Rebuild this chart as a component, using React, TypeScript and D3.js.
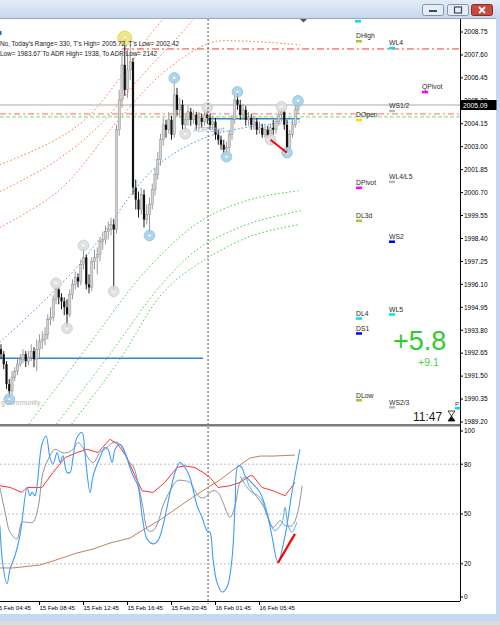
import React from 'react';
import * as d3 from 'd3';

type P = [number, number];

// ---- axis labels ----
const priceTicks = [2008.75, 2007.6, 2006.45, 2005.3, 2004.15, 2003.0, 2001.85, 2000.7, 1999.55, 1998.4, 1997.25, 1996.1, 1994.95, 1993.8, 1992.65, 1991.5, 1990.35, 1989.2];
const indTicks = [100, 80, 50, 20, 0];
const indGrid = [80, 50, 20];
const timeIdx = [-2, 14, 30, 46, 62, 78, 94];
const timeLabels = ['15 Feb 04:45', '15 Feb 08:45', '15 Feb 12:45', '15 Feb 16:45', '15 Feb 20:45', '16 Feb 01:45', '16 Feb 05:45'];
const lastPrice = 2005.09;

// ---- candles (M15) ----
const firstOpen = 1992.85;
const closes = [
  1992.60, 1992.10, 1991.10, 1990.75, 1991.45, 1991.75, 1992.10, 1992.35, 1992.60, 1992.25,
  1992.45, 1992.75, 1992.35, 1992.85, 1993.25, 1993.35, 1993.60, 1994.35, 1994.45, 1995.35,
  1995.85, 1995.45, 1995.25, 1994.95, 1994.60, 1995.60, 1996.10, 1996.45, 1996.25, 1997.10,
  1997.45, 1996.10, 1995.95, 1997.25, 1997.45, 1997.60, 1998.25, 1998.35, 1998.75, 1998.85,
  1999.10, 1998.85, 2003.85, 2005.35, 2007.10, 2005.85, 2006.85, 2007.25, 2000.95, 2000.35,
  1999.85, 2000.60, 1999.35, 1999.60, 2000.10, 2000.85, 2001.60, 2002.35, 2003.35, 2004.10,
  2003.85, 2004.35, 2003.60, 2005.60, 2004.85, 2005.10, 2004.10, 2004.35, 2004.75, 2004.35,
  2004.60, 2004.10, 2004.45, 2004.25, 2004.60, 2004.45, 2004.10, 2004.25, 2003.60, 2003.35,
  2003.10, 2002.85, 2002.95, 2003.60, 2004.35, 2005.35, 2005.10, 2004.60, 2004.85, 2004.35,
  2004.45, 2004.10, 2004.25, 2003.85, 2003.95, 2003.60, 2003.85, 2003.55, 2003.95, 2003.85,
  2004.25, 2004.60, 2004.75, 2004.10, 2002.95, 2003.60, 2004.10, 2004.85, 2005.09,
];
const highs = [
  1993.10, 1992.75, 1992.25, 1991.35, 1991.75, 1991.95, 1992.35, 1992.60, 1992.85, 1992.75,
  1992.75, 1993.10, 1992.95, 1993.35, 1993.60, 1993.75, 1993.95, 1994.60, 1994.95, 1995.55,
  1996.15, 1995.95, 1995.65, 1995.45, 1995.35, 1995.85, 1996.35, 1996.75, 1996.65, 1997.35,
  1998.05, 1997.60, 1996.60, 1997.45, 1997.85, 1997.95, 1998.45, 1998.75, 1999.05, 1999.25,
  1999.45, 1999.35, 2004.10, 2005.85, 2007.60, 2008.45, 2007.85, 2008.10, 2007.45, 2001.35,
  2000.75, 2000.95, 2000.85, 2000.10, 2000.45, 2001.15, 2001.95, 2002.75, 2003.65, 2004.45,
  2004.35, 2004.75, 2004.55, 2006.45, 2005.95, 2005.45, 2005.35, 2004.60, 2005.05, 2004.95,
  2004.85, 2004.75, 2004.75, 2004.65, 2004.85, 2004.95, 2004.65, 2004.55, 2004.45, 2003.85,
  2003.55, 2003.35, 2003.25, 2003.85, 2004.60, 2005.55, 2005.75, 2005.35, 2005.15, 2005.05,
  2004.75, 2004.65, 2004.55, 2004.45, 2004.25, 2004.15, 2004.05, 2004.05, 2004.15, 2004.35,
  2004.45, 2004.85, 2005.00, 2004.85, 2004.35, 2003.85, 2004.35, 2005.05, 2005.30,
];
const lows = [
  1992.35, 1991.85, 1990.85, 1990.35, 1990.60, 1991.25, 1991.55, 1991.95, 1992.15, 1991.95,
  1992.05, 1992.25, 1991.95, 1991.75, 1992.45, 1992.85, 1993.05, 1993.35, 1994.05, 1994.25,
  1995.10, 1995.10, 1994.85, 1994.55, 1993.90, 1994.45, 1995.35, 1995.85, 1995.95, 1996.05,
  1996.85, 1995.85, 1995.65, 1995.75, 1996.85, 1996.60, 1997.25, 1997.85, 1998.10, 1998.35,
  1998.55, 1995.75, 1998.65, 2003.55, 2004.95, 2005.55, 2005.45, 2006.35, 2000.60, 1999.85,
  1999.45, 1999.60, 1998.95, 1999.10, 1998.55, 1999.85, 2000.55, 2001.35, 2002.05, 2003.05,
  2003.45, 2003.65, 2003.35, 2003.45, 2004.55, 2004.45, 2003.85, 2003.65, 2004.05, 2004.05,
  2004.15, 2003.85, 2003.85, 2003.95, 2004.05, 2004.15, 2003.85, 2003.85, 2003.35, 2003.10,
  2002.85, 2002.65, 2002.50, 2002.75, 2003.35, 2004.15, 2004.85, 2004.35, 2004.35, 2004.05,
  2004.05, 2003.85, 2003.85, 2003.60, 2003.65, 2003.45, 2003.45, 2003.45, 2003.35, 2003.60,
  2003.65, 2004.05, 2004.25, 2003.85, 2002.70, 2002.85, 2003.45, 2003.95, 2004.65,
];

// fractal markers
const fractalIdx = [3, 20, 24, 30, 41, 45, 54, 63, 67, 75, 82, 86, 98, 102, 104, 108];
const fractalSide = ['l', 'h', 'l', 'h', 'l', 'h', 'l', 'h', 'l', 'h', 'l', 'h', 'l', 'h', 'l', 'h'];
const fractalKind = ['b', 'g', 'g', 'g', 'g', 'y', 'b', 'b', 'g', 'g', 'b', 'b', 'g', 'g', 'b', 'b'];
const priceDivIdx = [98, 104];

// ADR band curves [candle index, price]
const adrUp1: P[] = [[-0.4, 2002.10], [17.8, 2003.20], [30.5, 2004.35], [43.3, 2006.45], [54.2, 2008.60], [59.6, 2009.50]];
const adrUp2: P[] = [[-0.4, 2000.75], [19.6, 2002.25], [36, 2004.10], [50.5, 2006.45], [63.3, 2008.35], [70.5, 2009.45]];
const adrUp3: P[] = [[-0.4, 1998.95], [21.5, 2000.85], [42.2, 2004.25], [58.9, 2006.70], [76, 2008.20], [86.9, 2008.30], [108.7, 2008.10]];
const adrMid: P[] = [[-0.4, 1993.20], [27.6, 1996.95], [55.3, 2001.85], [72.4, 2003.35], [90.5, 2004.00], [108.7, 2004.25]];
const adrLow1: P[] = [[8.5, 1988.80], [31.6, 1993.00], [53.1, 1996.85], [72.4, 1999.25], [90.5, 2000.35], [108.7, 2000.80]];
const adrLow2: P[] = [[18.5, 1988.80], [39.6, 1992.60], [57.8, 1996.00], [72.4, 1997.95], [90.5, 1999.15], [109.5, 1999.80]];
const adrLow3: P[] = [[24, 1988.80], [43.3, 1992.35], [57.8, 1995.50], [68.7, 1996.85], [90.5, 1998.50], [108.7, 1999.10]];

// horizontal levels
const weekLevel = 2007.90;
const weekLevelStart = 44;
const dayOpenRed = 2004.65;
const dayOpenGreen = 2004.50;
const prevBlueLevel = 1992.40;
const prevBlueRange = [-1, 73.5];
const curBlueLevel = 2004.40;
const curBlueRange = [75.3, 108.7];
const sessionIdx = 75.3;

// pivot labels
const pivotNames = ['DHigh', 'WL4', 'QPivot', 'WS1/2', 'DOpen', 'DPivot', 'WL4/L5', 'DL3d', 'WS2', 'DL4', 'WL5', 'DS1', 'DLow', 'WS2/3'];
const pivotPrices = [2008.30, 2007.95, 2005.75, 2004.80, 2004.35, 2000.95, 2001.25, 1999.30, 1998.25, 1994.40, 1994.60, 1993.65, 1990.30, 1989.95];
const pivotColors = ['#9acd32', '#00e0f0', '#ff00ff', '#b8b8b8', '#ffd700', '#ff00ff', '#b8b8b8', '#9acd32', '#0000ff', '#00e0f0', '#00e0f0', '#0000ff', '#9acd32', '#b8b8b8'];

// indicator pane series [candle index, value]
const stochMain: P[] = [[-0.4, 43], [0.7, 19], [2.2, 8], [3.3, 17], [5.1, 25], [6.9, 37], [7.6, 45], [9.5, 66], [10.5, 61], [11.3, 63], [12.4, 61], [13.1, 67], [14.9, 92], [16.4, 97], [17.8, 84], [18.9, 80], [20.4, 87], [21.5, 81], [22.5, 85], [24, 75], [25.1, 75], [26.2, 84], [27.6, 96], [29.5, 99], [30.5, 87], [32.4, 63], [33.5, 73], [36, 84], [37.8, 90], [38.9, 89], [40.4, 81], [41.5, 89], [43.3, 92], [45.1, 87], [46.9, 78], [48, 73], [49.8, 67], [51.3, 49], [53.1, 35], [55.3, 32], [57.1, 34], [58.9, 43], [61.5, 63], [63.3, 75], [65.1, 81], [66.9, 78], [68.7, 72], [71.3, 55], [73.1, 48], [74.9, 40], [76, 39], [77.1, 23], [78.5, 9], [80.4, 3], [82.2, 6], [84, 23], [85.1, 54], [86.2, 79], [87.6, 78], [88.7, 73], [90.5, 70], [94.2, 63], [96.7, 51], [98.5, 37], [100.7, 21], [103.3, 37], [105.8, 63], [108.7, 89]];
const stochFast: P[] = [[86.9, 73], [90.5, 64], [94.2, 60], [97.1, 48], [99.6, 40], [102.2, 45], [103.3, 54], [104.4, 43], [105.8, 39], [106.9, 42], [107.6, 45]];
const stochSignal: P[] = [[-0.4, 66], [1.5, 51], [3.3, 39], [5.8, 35], [7.6, 45], [9.5, 45], [11.6, 45], [13.5, 54], [15.3, 75], [17.8, 85], [19.6, 89], [22.2, 87], [24, 87], [26.2, 89], [28, 93], [29.8, 90], [31.6, 84], [33.5, 81], [36, 87], [38.5, 90], [40.7, 93], [42.5, 93], [44.4, 89], [46.2, 82], [48, 79], [49.8, 69], [51.6, 54], [53.5, 40], [55.3, 40], [57.1, 45], [58.9, 55], [61.5, 64], [64, 70], [66.9, 70], [68.7, 69], [70.5, 64], [72.4, 60], [74.2, 60], [76, 63], [77.1, 64], [78.9, 63], [80.7, 57], [83.3, 48], [85.1, 55], [86.9, 69], [88.7, 72], [90.5, 66], [95.3, 55], [98.9, 42], [101.5, 46], [103.3, 43], [105.8, 43], [107.6, 49], [109.5, 67]];
const htfLine: P[] = [[-0.4, 67], [3.3, 66], [7.6, 63], [9.5, 66], [14.9, 66], [18.9, 75], [23.3, 84], [27.6, 87], [31.3, 89], [35.3, 87], [39.6, 95], [42.5, 92], [45.8, 84], [48.7, 73], [51.3, 64], [55.3, 63], [59.6, 69], [64, 78], [66.9, 79], [70.5, 78], [73.5, 75], [76, 72], [78.9, 66], [83.3, 67], [86.9, 69], [90.5, 73], [91.6, 73], [94.9, 66], [98.9, 64], [103.3, 61], [106.9, 69]];
const slowLine: P[] = [[-0.4, 17.5], [4.4, 17.5], [14.2, 19.3], [18.9, 21.7], [27.6, 26.5], [33.5, 28.9], [39.6, 32.5], [46.9, 35.5], [51.6, 40.4], [57.8, 46.4], [64, 53.6], [69.8, 60.2], [74.9, 65.7], [79.6, 70.5], [84.4, 76.5], [90.5, 83.7], [94.2, 84.9], [98.9, 84.9], [106.9, 85.5]];
const indDiv: P[] = [[100.7, 20.5], [106.9, 38]];

export default function App() {
  const AX = 460;
  const MAIN_TOP = 19;
  const MAIN_BOT = 424;
  const IND_TOP = 427;
  const IND_BOT = 601;
  const font = '"Liberation Sans", Arial, sans-serif';

  const x = d3.scaleLinear().domain([0, 108]).range([1, 298]);
  const y = d3.scaleLinear().domain([1989.2, 2008.75]).range([422, 32]);
  const yi = d3.scaleLinear().domain([0, 100]).range([597, 431]);
  const opens = closes.map((c, i) => (i === 0 ? firstOpen : closes[i - 1]));

  const smooth = d3.line<P>().x(d => x(d[0])).y(d => y(d[1])).curve(d3.curveCatmullRom.alpha(0.5));
  const smoothI = d3.line<P>().x(d => x(d[0])).y(d => yi(d[1])).curve(d3.curveCatmullRom.alpha(0.5));
  const linI = d3.line<P>().x(d => x(d[0])).y(d => yi(d[1]));

  const colX = (name: string) => (name[0] === 'D' ? 356 : name[0] === 'W' ? 389 : 422);

  return (
    <svg width={500} height={625} style={{ position: 'absolute', left: 0, top: 0, fontFamily: font }}>
      <defs>
        <linearGradient id="tb" x1="0" y1="0" x2="0" y2="1">
          <stop offset="0" stopColor="#e3ecf7" />
          <stop offset="1" stopColor="#c6d8ee" />
        </linearGradient>
        <clipPath id="mainClip"><rect x={0} y={MAIN_TOP} width={AX} height={MAIN_BOT - MAIN_TOP} /></clipPath>
        <clipPath id="indClip"><rect x={0} y={IND_TOP} width={AX} height={IND_BOT - IND_TOP} /></clipPath>
      </defs>
      <rect x={0} y={0} width={500} height={625} fill="#ffffff" />

      {/* window chrome */}
      <rect x={0} y={0} width={500} height={18} fill="url(#tb)" />
      <line x1={0} x2={500} y1={18.5} y2={18.5} stroke="#9aa7b8" />
      <rect x={422.5} y={4.5} width={21} height={11} rx={2} fill="#e6edf6" stroke="#8193ad" />
      <rect x={429} y={10} width={8} height={2} fill="#3a4a60" />
      <rect x={447.5} y={4.5} width={21} height={11} rx={2} fill="#e6edf6" stroke="#8193ad" />
      <rect x={454.5} y={7} width={7} height={6} fill="none" stroke="#3a4a60" strokeWidth={1.2} />
      <rect x={471.5} y={4.5} width={21} height={11} rx={2} fill="#c9493d" stroke="#8a2c25" />
      <path d="M479,7 L485,13 M485,7 L479,13" stroke="#ffffff" strokeWidth={1.8} />
      <rect x={496} y={18} width={4} height={607} fill="#c4d7ee" />
      <rect x={0} y={614} width={500} height={7} fill="#c5d8ef" />
      <rect x={0} y={621} width={500} height={4} fill="#dcdcdc" />

      {/* main pane */}
      <g clipPath="url(#mainClip)">
        {[adrUp1, adrUp2, adrUp3].map((c, k) => (
          <path key={'u' + k} d={smooth(c) || ''} fill="none" stroke="#ff7a45" strokeWidth={1} strokeDasharray="1.6,2.2" />
        ))}
        {[adrLow1, adrLow2, adrLow3].map((c, k) => (
          <path key={'l' + k} d={smooth(c) || ''} fill="none" stroke="#4cd24c" strokeWidth={1} strokeDasharray="1.6,2.2" />
        ))}
        <path d={smooth(adrMid) || ''} fill="none" stroke="#3d9bff" strokeWidth={1} strokeDasharray="1.6,2.2" />

        {/* levels */}
        <line x1={x(weekLevelStart)} x2={AX} y1={y(weekLevel)} y2={y(weekLevel)} stroke="#e8452e" strokeWidth={1} strokeDasharray="7,3,2,3" />
        <line x1={0} x2={AX} y1={y(lastPrice)} y2={y(lastPrice)} stroke="#a9a9a9" strokeWidth={1} />
        <line x1={0} x2={AX} y1={y(dayOpenRed)} y2={y(dayOpenRed)} stroke="#ff8a80" strokeWidth={1.3} strokeDasharray="6,3,2,3" />
        <line x1={0} x2={AX} y1={y(dayOpenGreen)} y2={y(dayOpenGreen)} stroke="#b6ebb0" strokeWidth={2} strokeDasharray="4,2" />
        <line x1={x(prevBlueRange[0])} x2={x(prevBlueRange[1])} y1={y(prevBlueLevel)} y2={y(prevBlueLevel)} stroke="#2f86db" strokeWidth={1.5} />
        <line x1={x(curBlueRange[0])} x2={x(curBlueRange[1])} y1={y(curBlueLevel)} y2={y(curBlueLevel)} stroke="#2f86db" strokeWidth={1.5} />

        {/* candles */}
        {closes.map((c, i) => {
          const o = opens[i];
          const bull = c >= o;
          const cx = x(i);
          const top = y(Math.max(o, c));
          const bot = y(Math.min(o, c));
          return (
            <g key={'c' + i}>
              <line x1={cx} x2={cx} y1={y(highs[i])} y2={y(lows[i])} stroke={bull ? '#9a9a9a' : '#1a1a1a'} strokeWidth={1} />
              <rect x={cx - 1.1} y={top} width={2.2} height={Math.max(1, bot - top)} fill={bull ? '#d2d2d2' : '#111111'} stroke={bull ? '#8e8e8e' : 'none'} strokeWidth={0.5} />
            </g>
          );
        })}

        {/* fractal markers */}
        {fractalIdx.map((idx, k) => {
          const cy = fractalSide[k] === 'h' ? y(highs[idx]) : y(lows[idx]);
          const kind = fractalKind[k];
          const fill = kind === 'b' ? '#9fd0e8' : kind === 'y' ? '#eee07a' : '#dedede';
          const stroke = kind === 'b' ? '#86c0de' : kind === 'y' ? '#e2d050' : '#c8c8c8';
          return (
            <g key={'f' + k} opacity={0.85}>
              <circle cx={x(idx)} cy={cy} r={kind === 'y' ? 7 : 5.3} fill={fill} stroke={stroke} />
              <circle cx={x(idx)} cy={cy} r={1.2} fill="#ffffff" />
            </g>
          );
        })}

        {/* divergence on price */}
        <line x1={x(priceDivIdx[0])} y1={y(lows[priceDivIdx[0]])} x2={x(priceDivIdx[1])} y2={y(lows[priceDivIdx[1]])} stroke="#ff0000" strokeWidth={2} />

        {/* texts */}
        <rect x={0} y={31} width={1.5} height={4} fill="#1f5fd0" />
        <text x={0} y={45.5} fontSize={6.4} fill="#1a1a1a">No, Today's Range= 330, T's High= 2005.72, T's Low= 2002.42</text>
        <text x={0} y={55.5} fontSize={6.4} fill="#1a1a1a">Low= 1983.67`To ADR High= 1938, To ADR Low= 2142</text>
        <text x={193} y={132} fontSize={7} fill="#a3b7cc">ADR Start</text>
        <text x={1} y={405} fontSize={7} fill="#b5b5b5">gCommunity</text>

        <rect x={355} y={20} width={6} height={2.5} fill="#00e0f0" />
        <path d="M300,19 L307,19 L303.5,22.5 Z" fill="#555555" />
        {pivotNames.map((n, k) => {
          const my = y(pivotPrices[k]);
          const cx = colX(n);
          return (
            <g key={'p' + k}>
              <text x={cx} y={my - 2.5} fontSize={6.8} fill="#2a2a2a">{n}</text>
              <rect x={cx} y={my - 1} width={6} height={2.5} fill={pivotColors[k]} />
            </g>
          );
        })}
        <text x={393} y={350} fontSize={27} fill="#2ecc2e">+5.8</text>
        <text x={418} y={366} fontSize={10.5} fill="#4cd04c">+9.1</text>
        <text x={413} y={420.5} fontSize={12} fill="#1a1a1a">11:47</text>
        <path d="M448,411 L455,411 L451.5,416 Z" fill="#ffffff" stroke="#111" strokeWidth={0.8} />
        <path d="M448,421 L455,421 L451.5,416 Z" fill="#111111" stroke="#111" strokeWidth={0.8} />
        <text x={455} y={406} fontSize={6} fill="#333">P</text>
        <rect x={455} y={407} width={5} height={2.5} fill="#00e0f0" />
      </g>

      {/* session separator */}
      <line x1={x(sessionIdx)} x2={x(sessionIdx)} y1={MAIN_TOP} y2={IND_BOT + 3} stroke="#555" strokeWidth={1} strokeDasharray="2,2" />

      {/* pane borders */}
      <rect x={0} y={MAIN_BOT} width={AX} height={2.5} fill="#7c7c7c" />
      <line x1={AX + 0.5} x2={AX + 0.5} y1={MAIN_TOP} y2={IND_BOT} stroke="#000" strokeWidth={1} />
      <line x1={0} x2={AX} y1={IND_BOT + 0.5} y2={IND_BOT + 0.5} stroke="#000" strokeWidth={1} />

      {/* price axis */}
      {priceTicks.map((p, k) => (
        <g key={'pt' + k}>
          <line x1={AX} x2={AX + 3} y1={y(p)} y2={y(p)} stroke="#000" />
          <text x={AX + 4} y={y(p) + 2.3} fontSize={6.5} fill="#000">{p.toFixed(2)}</text>
        </g>
      ))}
      <rect x={AX + 0.5} y={y(lastPrice) - 5} width={36} height={10} fill="#000" />
      <text x={AX + 3} y={y(lastPrice) + 2.5} fontSize={6.8} fill="#fff">{lastPrice.toFixed(2)}</text>

      {/* indicator pane */}
      <g clipPath="url(#indClip)">
        {indGrid.map(v => (
          <line key={'g' + v} x1={0} x2={AX} y1={yi(v)} y2={yi(v)} stroke="#c0c0c0" strokeWidth={1} strokeDasharray="2,2" />
        ))}
        <path d={linI(slowLine) || ''} fill="none" stroke="#c0825a" strokeWidth={1} />
        <path d={linI(htfLine) || ''} fill="none" stroke="#ff3030" strokeWidth={1} />
        <path d={smoothI(stochSignal) || ''} fill="none" stroke="#8c939c" strokeWidth={1} />
        <path d={smoothI(stochFast) || ''} fill="none" stroke="#5aaaf0" strokeWidth={1} />
        <path d={smoothI(stochMain) || ''} fill="none" stroke="#3d9bff" strokeWidth={1.1} />
        <path d={linI(indDiv) || ''} fill="none" stroke="#ff0000" strokeWidth={2.2} />
      </g>
      {indTicks.map(v => (
        <g key={'it' + v}>
          <line x1={AX} x2={AX + 3} y1={yi(v)} y2={yi(v)} stroke="#000" />
          <text x={AX + 4} y={yi(v) + 2.3} fontSize={6.5} fill="#000">{v}</text>
        </g>
      ))}

      {/* time axis */}
      {timeIdx.map((t, k) => (
        <g key={'tt' + k}>
          <line x1={x(t)} x2={x(t)} y1={IND_BOT} y2={IND_BOT + 4} stroke="#000" />
          <text x={x(t)} y={610} fontSize={6} fill="#000">{timeLabels[k]}</text>
        </g>
      ))}
    </svg>
  );
}
